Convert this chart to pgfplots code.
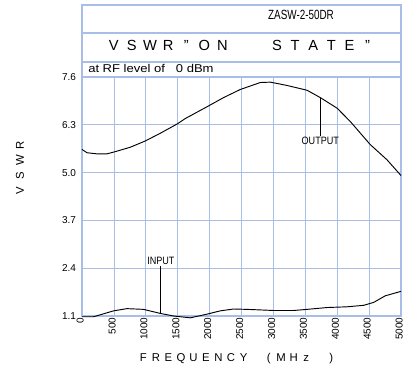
\documentclass[border=0pt]{standalone}
\usepackage{pgfplots}
\pgfplotsset{compat=1.18}
\usepackage{fontspec}
\setmainfont{Liberation Sans}
\definecolor{gridblue}{HTML}{A8BEE6}
\newcommand\ch[2]{\makebox[#1]{#2}}
\begin{document}
\begin{tikzpicture}
\path[use as bounding box] (0,0) rectangle (302.25pt,279.75pt);
\begin{axis}[
  scale only axis,
  width=239.25pt, height=179.25pt,
  at={(61.5pt,42.75pt)}, anchor=south west,
  xmin=0, xmax=5000, ymin=1.1, ymax=7.6,
  xtick={0,500,1000,1500,2000,2500,3000,3500,4000,4500,5000},
  xticklabels={0,500,1000,1500,2000,2500,3000,3500,4000,4500,5000},
  ytick={1.1,2.4,3.7,5.0,6.3,7.6},
  yticklabels={1.1,2.4,3.7,5.0,6.3,7.6},
  grid=major,
  major grid style={gridblue, line width=0.6pt},
  axis line style={gridblue, line width=0.8pt},
  major tick length=0pt,
  tick label style={font=\fontsize{7.5}{8}\selectfont},
  xticklabel style={rotate=90, anchor=south east, inner sep=1pt, yshift=-2.5pt},
  yticklabel style={xshift=-1pt},
  clip=false,
]
\addplot[black, line width=0.7pt] coordinates {
(0,5.63) (78,5.54) (235,5.51) (392,5.51) (522,5.57) (757,5.69) (992,5.86)
(1227,6.07) (1489,6.32) (1619,6.47) (1959,6.79) (2219,7.04) (2481,7.26)
(2795,7.45) (2952,7.46) (3213,7.37) (3527,7.24) (3735,7.04) (4000,6.75)
(4205,6.39) (4519,5.76) (4780,5.35) (5000,4.92)
};
\addplot[black, line width=0.7pt] coordinates {
(0,1.08) (183,1.08) (495,1.24) (705,1.30) (965,1.28) (1227,1.17) (1436,1.10)
(1697,1.05) (1959,1.15) (2168,1.24) (2377,1.29) (2586,1.28) (3004,1.25)
(3318,1.25) (3527,1.28) (3840,1.33) (4154,1.35) (4415,1.39) (4572,1.47)
(4755,1.65) (5000,1.77)
};
\draw[black, line width=0.7pt] (axis cs:3735,7.04) -- (axis cs:3735,6.0);
\node[font=\fontsize{8}{9}\selectfont, inner sep=0pt] at (axis cs:3735,5.87) {\scalebox{0.85}[1]{OUTPUT}};
\draw[black, line width=0.7pt] (axis cs:1237,1.17) -- (axis cs:1237,2.47);
\node[font=\fontsize{8}{9}\selectfont, inner sep=0pt] at (axis cs:1237,2.6) {\scalebox{0.85}[1]{INPUT}};
\end{axis}
% header boxes
\draw[gridblue, line width=0.8pt] (61.5pt,222pt) rectangle (300.75pt,276pt);
\draw[gridblue, line width=0.8pt] (61.5pt,255pt) -- (300.75pt,255pt);
\draw[gridblue, line width=0.8pt] (61.5pt,233.25pt) -- (300.75pt,233.25pt);
\node[font=\fontsize{10}{12}\selectfont, inner sep=0pt] at (225.75pt,268.3pt) {\scalebox{0.74}[1]{ZASW-2-50DR}};
\node[font=\fontsize{11}{13}\selectfont, inner sep=0pt] at (180.5pt,245.4pt) {\ch{13.6pt}{V}\ch{13.6pt}{S}\ch{13.6pt}{W}\ch{13.6pt}{R}\ch{13.6pt}{"}\ch{13.6pt}{O}\ch{13.6pt}{N}\ch{13.6pt}{}\ch{13.6pt}{}\ch{13.6pt}{S}\ch{13.6pt}{T}\ch{13.6pt}{A}\ch{13.6pt}{T}\ch{13.6pt}{E}\ch{13.6pt}{"}};
\node[font=\fontsize{8.5}{10}\selectfont, inner sep=0pt, anchor=west] at (66pt,228.6pt) {\scalebox{1.15}[1]{at RF level of \ \ 0 dBm}};
% axis labels
\node[font=\fontsize{8.5}{10}\selectfont, inner sep=0pt] at (178pt,10.5pt) {\ch{9.4pt}{F}\ch{9.4pt}{R}\ch{9.4pt}{E}\ch{9.4pt}{Q}\ch{9.4pt}{U}\ch{9.4pt}{E}\ch{9.4pt}{N}\ch{9.4pt}{C}\ch{9.4pt}{Y}\ch{9.4pt}{}\ch{9.4pt}{(}\ch{9.4pt}{M}\ch{9.4pt}{H}\ch{9.4pt}{z}\ch{9.4pt}{}\ch{9.4pt}{)}};
\node[font=\fontsize{8.5}{10}\selectfont, inner sep=0pt, rotate=90] at (15pt,153.75pt) {\ch{11.5pt}{V}\ch{11.5pt}{S}\ch{11.5pt}{W}\ch{11.5pt}{R}};
\end{tikzpicture}
\end{document}
